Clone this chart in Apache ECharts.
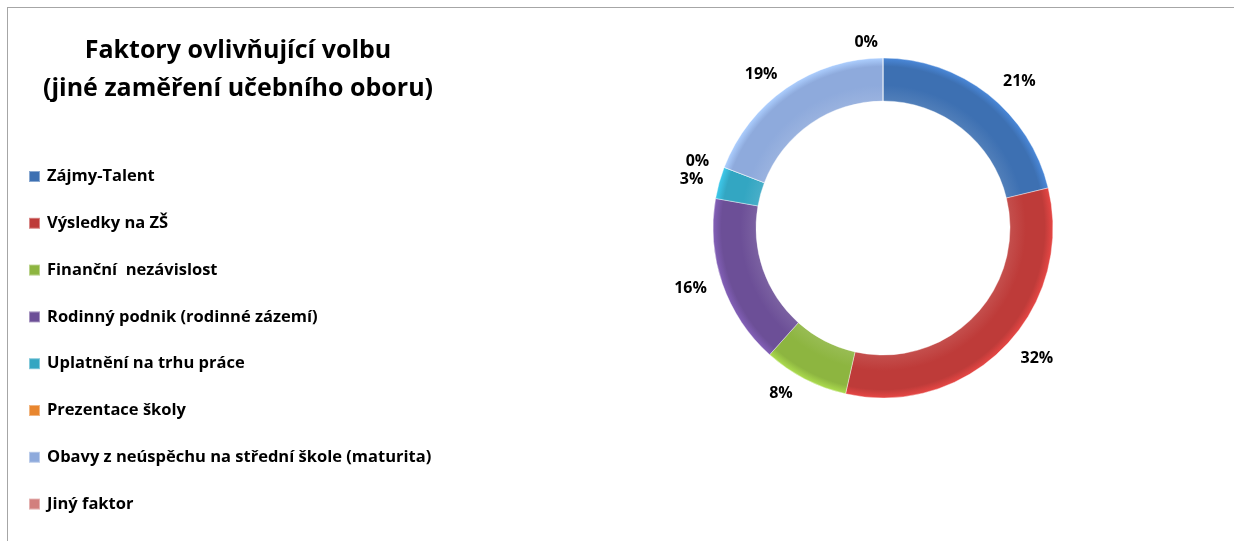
<!DOCTYPE html>
<html>
<head>
<meta charset="utf-8">
<script src="https://cdn.jsdelivr.net/npm/echarts@6/dist/echarts.min.js"></script>
<style>
  html, body { margin: 0; padding: 0; background: #fff; overflow: hidden; }
  #chart { position: absolute; left: 0; top: 0; width: 1234px; height: 541px; }
  #frame {
    position: absolute; left: 7px; top: 7px; width: 1240px; height: 560px;
    border-left: 1px solid #a6a6a6; border-top: 1px solid #a6a6a6;
    pointer-events: none;
  }
</style>
</head>
<body>
<div id="chart"></div>
<div id="frame"></div>
<script>
const titleLines = ["Faktory ovlivňující volbu", "(jiné zaměření učebního oboru)"];
const categories = [
  "Zájmy-Talent",
  "Výsledky na ZŠ",
  "Finanční  nezávislost",
  "Rodinný podnik (rodinné zázemí)",
  "Uplatnění na trhu práce",
  "Prezentace školy",
  "Obavy z neúspěchu na střední škole (maturita)",
  "Jiný faktor"
];
const shares = [21, 32, 8, 16, 3, 0, 19, 0];
const colors = ["#3d70b2", "#be3b39", "#8db540", "#6c4f97", "#33a6c2", "#e8862f", "#8eaadc", "#d27f7d"];

const chart = echarts.init(document.getElementById("chart"));

const fontFamily = "'Open Sans', 'Liberation Sans', sans-serif";
const ringCenter = [883, 228];
const ringRadius = [127, 170];

// soft bevel look: a bit darker near the inner edge, lighter at the outer rim
function bevel(c) {
  const dark = echarts.color.lift(c, 0.1);
  const light = echarts.color.lift(c, -0.22);
  return {
    type: "radial",
    x: ringCenter[0],
    y: ringCenter[1],
    r: ringRadius[1],
    global: true,
    colorStops: [
      { offset: 0, color: dark },
      { offset: 0.75, color: dark },
      { offset: 0.84, color: c },
      { offset: 0.95, color: c },
      { offset: 1, color: light }
    ]
  };
}

chart.setOption({
  backgroundColor: "#fff",
  animation: false,
  color: colors,
  title: {
    text: titleLines.join("\n"),
    left: 238,
    top: 32,
    textAlign: "center",
    padding: 0,
    textStyle: {
      fontFamily,
      fontSize: 25,
      fontWeight: "bold",
      color: "#000",
      lineHeight: 38
    }
  },
  legend: {
    orient: "vertical",
    left: 28,
    top: 168,
    padding: 0,
    itemWidth: 11,
    itemHeight: 11,
    itemGap: 29.8,
    icon: "rect",
    textStyle: {
      fontFamily,
      fontSize: 16.5,
      lineHeight: 16,
      fontWeight: "bold",
      color: "#000",
      padding: [0, 0, 0, 2]
    },
    data: categories.map((name, i) => ({ name, itemStyle: { color: colors[i] } }))
  },
  series: [{
    type: "pie",
    center: ringCenter,
    radius: ringRadius,
    startAngle: 90,
    clockwise: true,
    avoidLabelOverlap: true,
    itemStyle: { borderColor: "rgba(255,255,255,0.4)", borderWidth: 1 },
    label: {
      show: true,
      position: "outside",
      formatter: "{c}%",
      fontFamily,
      fontSize: 16,
      fontWeight: "bold",
      color: "#000"
    },
    labelLine: { show: false, length: 16, length2: 0 },
    emphasis: { disabled: true },
    data: categories.map((name, i) => ({
      name,
      value: shares[i],
      itemStyle: { color: bevel(colors[i]) }
    }))
  }]
});
</script>
</body>
</html>
